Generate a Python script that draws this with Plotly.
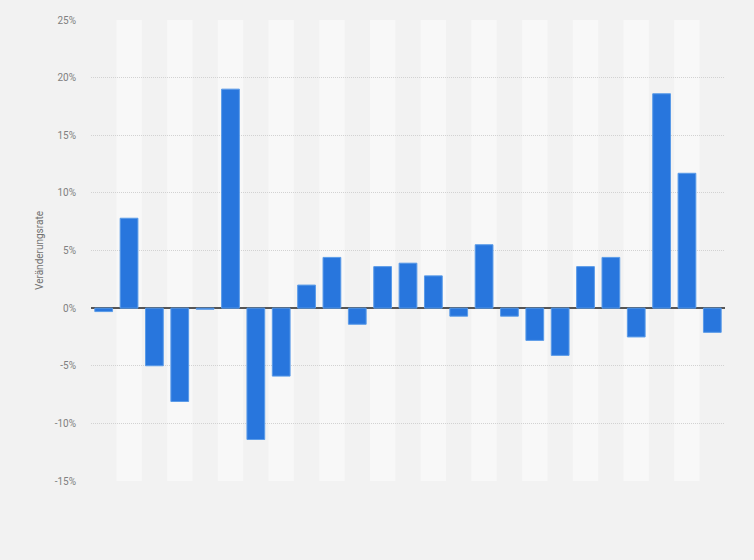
import plotly.graph_objects as go

categories = [str(i) for i in range(1, 26)]
values = [-0.3, 7.8, -5.0, -8.1, -0.1, 19.0, -11.4, -5.9, 2.0, 4.4, -1.4, 3.6, 3.9, 2.8,
          -0.7, 5.5, -0.7, -2.8, -4.1, 3.6, 4.4, -2.5, 18.6, 11.7, -2.1]
y_ticks = [-15, -10, -5, 0, 5, 10, 15, 20, 25]
y_tick_labels = [f"{t}%" for t in y_ticks]

fig = go.Figure()
fig.add_trace(go.Bar(
    x=list(range(len(categories))), y=values,
    marker=dict(color="#2876dd", line=dict(color="#5a9be8", width=1)),
    width=0.7,
    hovertext=categories,
))

shapes = []
for i in range(len(categories)):
    if i % 2 == 1:
        shapes.append(dict(type="rect", xref="x", yref="paper", x0=i - 0.5, x1=i + 0.5,
                           y0=0, y1=1, fillcolor="#f8f8f8", line=dict(width=0), layer="below"))
fig.update_layout(shapes=shapes)

fig.update_layout(
    width=754, height=560,
    margin=dict(l=91, r=29, t=20, b=79),
    paper_bgcolor="#f2f2f2", plot_bgcolor="#f2f2f2",
    showlegend=False,
    font=dict(family="Roboto, Arial, sans-serif", color="#666666", size=10),
    xaxis=dict(range=[-0.5, len(categories) - 0.5], showticklabels=False, showgrid=False,
               zeroline=False, ticks=""),
    yaxis=dict(range=[-15, 25], tickvals=y_ticks, ticktext=y_tick_labels,
               showgrid=True, gridcolor="#d2d2d2", griddash="1px,1px", gridwidth=1,
               zeroline=True, zerolinecolor="#555555", zerolinewidth=2,
               ticklabelstandoff=14, tickfont=dict(size=10, color="#808080"),
               title=dict(text="Veränderungsrate", font=dict(size=10, color="#707070"), standoff=9)),
)

fig.write_html("out.html", config={"displayModeBar": False},
               post_script="document.body.style.margin='0';document.body.style.background='#f2f2f2';")
